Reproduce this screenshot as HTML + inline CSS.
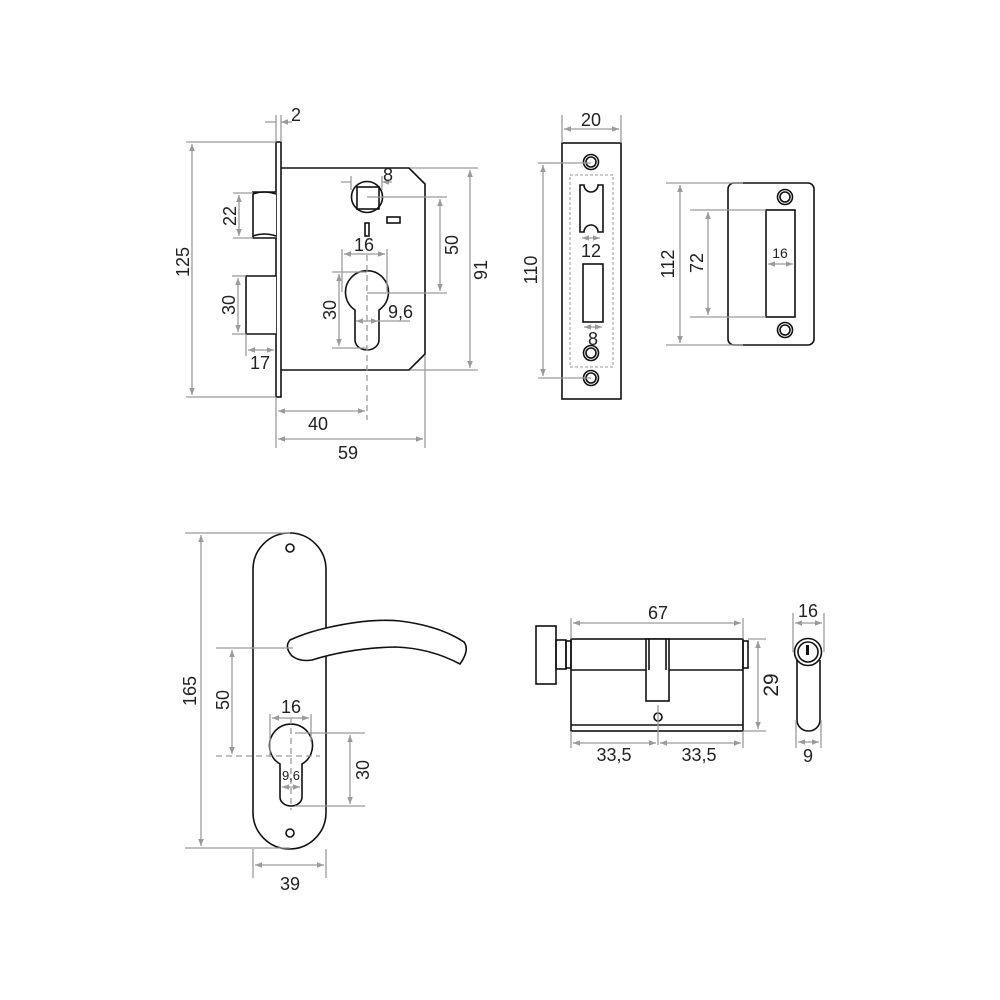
<!DOCTYPE html>
<html><head><meta charset="utf-8"><style>
html,body{margin:0;padding:0;background:#fff;}
svg{display:block}
text{font-family:"Liberation Sans","DejaVu Sans",sans-serif;fill:#222;font-size:18px;}
.d{stroke:#9a9a9a;stroke-width:1.3;fill:none}
.k{stroke:#111;stroke-width:1.6;fill:none}
.kw{stroke:#111;stroke-width:1.6;fill:#fff}
.da{stroke:#9a9a9a;stroke-width:1.3;fill:none;marker-start:url(#a);marker-end:url(#a)}
.ds{stroke:#9a9a9a;stroke-width:1.3;fill:none;stroke-dasharray:6 4}
</style></head><body>
<svg width="1000" height="1000" viewBox="0 0 1000 1000" xmlns="http://www.w3.org/2000/svg">
<defs>
<marker id="a" viewBox="0 0 10 10" refX="10" refY="5" markerWidth="7" markerHeight="7" orient="auto-start-reverse" markerUnits="userSpaceOnUse"><path d="M0,1 L10,5 L0,9 z" fill="#9a9a9a"/></marker>
</defs>

<!-- ===== Mortise lock ===== -->
<rect x="276" y="142" width="5" height="255" fill="#fff" stroke="#111" stroke-width="1.6"/>
<path class="k" d="M281,168 H409 L425,184 V354 L409,370 H281"/>
<path class="kw" d="M276,192 H253 V238 H276"/>
<path class="k" d="M253,194 Q264,190 276,194 M253,236 Q264,232 276,236"/>
<path class="kw" d="M276,276 H246 V334 H276"/>
<circle class="k" cx="367" cy="197" r="15.5"/>
<rect class="k" x="357" y="187" width="22" height="22"/>
<rect class="k" x="365" y="223" width="4" height="13"/>
<rect class="k" x="387" y="217" width="13" height="6"/>
<path class="k" d="M355,310 A21.5,21.5 0 1 1 379,310 V340 A12,10 0 0 1 355,340 Z"/>
<line class="ds" x1="367" y1="255" x2="367" y2="420"/>
<!-- dims -->
<line class="d" x1="186" y1="142" x2="276" y2="142"/>
<line class="d" x1="186" y1="397" x2="276" y2="397"/>
<line class="da" x1="192" y1="144" x2="192" y2="395"/>
<text transform="translate(189,262) rotate(-90)" text-anchor="middle">125</text>
<line class="d" x1="276" y1="115" x2="276" y2="142"/>
<line class="d" x1="281" y1="115" x2="281" y2="142"/>
<path class="d" d="M265,122 H276 M292,122 H281" style="marker-end:url(#a)"/>
<text x="291" y="121">2</text>
<line class="d" x1="233" y1="193" x2="253" y2="193"/>
<line class="d" x1="233" y1="238" x2="253" y2="238"/>
<line class="da" x1="239" y1="195" x2="239" y2="236"/>
<text transform="translate(236,216) rotate(-90)" text-anchor="middle">22</text>
<line class="d" x1="232" y1="276" x2="246" y2="276"/>
<line class="d" x1="232" y1="334" x2="246" y2="334"/>
<line class="da" x1="238" y1="278" x2="238" y2="332"/>
<text transform="translate(235,305) rotate(-90)" text-anchor="middle">30</text>
<line class="d" x1="246" y1="334" x2="246" y2="356"/>
<line class="da" x1="248" y1="350" x2="274" y2="350"/>
<text x="260" y="369" text-anchor="middle">17</text>
<line class="d" x1="276" y1="397" x2="276" y2="448"/>
<line class="d" x1="425" y1="355" x2="425" y2="448"/>
<line class="da" x1="278" y1="411" x2="365" y2="411"/>
<text x="318" y="430" text-anchor="middle">40</text>
<line class="da" x1="278" y1="439" x2="423" y2="439"/>
<text x="348" y="459" text-anchor="middle">59</text>
<line class="d" x1="410" y1="168" x2="478" y2="168"/>
<line class="d" x1="410" y1="370" x2="478" y2="370"/>
<line class="da" x1="470" y1="170" x2="470" y2="368"/>
<text transform="translate(487,270) rotate(-90)" text-anchor="middle">91</text>
<line class="d" x1="367" y1="197" x2="447" y2="197"/>
<line class="d" x1="367" y1="293" x2="447" y2="293"/>
<line class="da" x1="440" y1="199" x2="440" y2="291"/>
<text transform="translate(458,245) rotate(-90)" text-anchor="middle">50</text>
<line class="d" x1="351" y1="176" x2="351" y2="190"/>
<line class="d" x1="382" y1="176" x2="382" y2="190"/>
<path class="d" d="M341,182 H351 M392,182 H382" style="marker-end:url(#a)"/>
<text x="383" y="181">8</text>
<line class="d" x1="342" y1="249" x2="342" y2="292"/>
<line class="d" x1="387" y1="249" x2="387" y2="292"/>
<line class="da" x1="344" y1="254" x2="385" y2="254"/>
<text x="364" y="251" text-anchor="middle">16</text>
<line class="d" x1="332" y1="272" x2="367" y2="272"/>
<line class="d" x1="332" y1="348" x2="367" y2="348"/>
<line class="da" x1="339" y1="274" x2="339" y2="346"/>
<text transform="translate(336,310) rotate(-90)" text-anchor="middle">30</text>
<line class="da" x1="356" y1="321" x2="378" y2="321"/>
<line class="d" x1="378" y1="321" x2="410" y2="321"/>
<text x="388" y="318">9,6</text>

<!-- ===== Strike plate 1 ===== -->
<rect class="k" x="562" y="143" width="59" height="256"/>
<rect x="570" y="175" width="43" height="192" fill="none" stroke="#999" stroke-width="1" stroke-dasharray="3 2"/>
<g class="k">
<circle cx="591" cy="162" r="7.5"/><circle cx="591" cy="162" r="5" />
<circle cx="591" cy="353" r="7.5"/><circle cx="591" cy="353" r="5"/>
<circle cx="591" cy="378" r="7.5"/><circle cx="591" cy="378" r="5"/>
</g>
<path class="k" d="M580,185 H584 A7,7 0 0 0 598,185 H603 V232 H598 A7,7 0 0 0 584,232 H580 Z"/>
<rect class="k" x="583" y="264" width="20" height="58"/>
<line class="d" x1="562" y1="115" x2="562" y2="143"/>
<line class="d" x1="621" y1="115" x2="621" y2="143"/>
<line class="da" x1="564" y1="129" x2="619" y2="129"/>
<text x="591" y="126" text-anchor="middle">20</text>
<line class="d" x1="538" y1="163" x2="591" y2="163"/>
<line class="d" x1="538" y1="378" x2="591" y2="378"/>
<line class="da" x1="543" y1="165" x2="543" y2="376"/>
<text transform="translate(537,270) rotate(-90)" text-anchor="middle">110</text>
<line class="da" x1="582" y1="238" x2="600" y2="238"/>
<text x="591" y="257" text-anchor="middle">12</text>
<line class="da" x1="584" y1="327" x2="602" y2="327"/>
<text x="593" y="345" text-anchor="middle">8</text>

<!-- ===== Strike plate 2 ===== -->
<rect class="k" x="728" y="183" width="86" height="162" rx="6"/>
<rect class="k" x="766" y="210" width="29" height="107"/>
<g class="k">
<circle cx="785" cy="197" r="7.5"/><circle cx="785" cy="197" r="5"/>
<circle cx="785" cy="330" r="7.5"/><circle cx="785" cy="330" r="5"/>
</g>
<line class="d" x1="666" y1="183" x2="743" y2="183"/>
<line class="d" x1="666" y1="345" x2="743" y2="345"/>
<line class="da" x1="680" y1="185" x2="680" y2="343"/>
<text transform="translate(674,264) rotate(-90)" text-anchor="middle">112</text>
<line class="d" x1="690" y1="210" x2="766" y2="210"/>
<line class="d" x1="690" y1="317" x2="766" y2="317"/>
<line class="da" x1="708" y1="212" x2="708" y2="315"/>
<text transform="translate(703,263) rotate(-90)" text-anchor="middle">72</text>
<line class="da" x1="768" y1="264" x2="793" y2="264"/>
<text x="780" y="258" text-anchor="middle" style="font-size:14px">16</text>

<!-- ===== Handle ===== -->
<rect class="k" x="253" y="533" width="73" height="316" rx="36.5"/>
<circle class="k" cx="290" cy="548" r="4"/>
<circle class="k" cx="290" cy="833" r="4"/>
<path class="kw" d="M326,628 Q370,618 400,621 Q440,626 464,642 Q470,650 460,664 Q430,648 395,647 Q350,648 312,660 Q300,662 292,656 Q284,647 290,640 Q305,633 326,628 Z"/>
<path class="k" d="M280,764 A21.5,21.5 0 1 1 302,764 V797 A11,9 0 0 1 280,797 Z"/>
<line class="ds" x1="291" y1="718" x2="291" y2="810"/>
<line class="ds" x1="216" y1="756" x2="320" y2="756"/>
<line class="d" x1="185" y1="533" x2="290" y2="533"/>
<line class="d" x1="185" y1="848" x2="290" y2="848"/>
<line class="da" x1="201" y1="535" x2="201" y2="846"/>
<text transform="translate(196,691) rotate(-90)" text-anchor="middle">165</text>
<line class="d" x1="216" y1="648" x2="293" y2="648"/>
<line class="da" x1="232" y1="650" x2="232" y2="754"/>
<text transform="translate(229,700) rotate(-90)" text-anchor="middle">50</text>
<line class="d" x1="270" y1="714" x2="270" y2="756"/>
<line class="d" x1="311" y1="714" x2="311" y2="742"/>
<line class="da" x1="272" y1="718" x2="309" y2="718"/>
<text x="291" y="713" text-anchor="middle">16</text>
<line class="d" x1="295" y1="733" x2="365" y2="733"/>
<line class="d" x1="295" y1="806" x2="365" y2="806"/>
<line class="da" x1="350" y1="735" x2="350" y2="804"/>
<text transform="translate(369,770) rotate(-90)" text-anchor="middle">30</text>
<line class="da" x1="282" y1="787" x2="300" y2="787"/>
<text x="291" y="780" text-anchor="middle" style="font-size:13px">9,6</text>
<line class="d" x1="253" y1="849" x2="253" y2="878"/>
<line class="d" x1="326" y1="849" x2="326" y2="878"/>
<line class="da" x1="255" y1="865" x2="324" y2="865"/>
<text x="290" y="890" text-anchor="middle">39</text>

<!-- ===== Cylinder ===== -->
<rect class="k" x="536" y="626" width="20" height="58"/>
<rect class="k" x="556" y="640" width="10" height="29"/>
<rect class="k" x="566" y="641" width="5" height="27"/>
<rect class="k" x="571" y="639" width="172" height="92"/>
<line class="k" x1="571" y1="670" x2="743" y2="670"/>
<line class="k" x1="571" y1="725" x2="743" y2="725"/>
<rect class="k" x="743" y="641" width="5" height="27"/>
<rect class="kw" x="646" y="639" width="23" height="62"/>
<line class="k" x1="649" y1="639" x2="649" y2="670"/>
<line class="k" x1="666" y1="639" x2="666" y2="670"/>
<circle class="k" cx="658" cy="717" r="4"/>
<line class="d" x1="658" y1="705" x2="658" y2="745"/>
<line class="d" x1="571" y1="618" x2="571" y2="639"/>
<line class="d" x1="743" y1="618" x2="743" y2="639"/>
<line class="da" x1="573" y1="623" x2="741" y2="623"/>
<text x="658" y="619" text-anchor="middle">67</text>
<line class="d" x1="748" y1="639" x2="766" y2="639"/>
<line class="d" x1="743" y1="731" x2="766" y2="731"/>
<line class="da" x1="758" y1="641" x2="758" y2="729"/>
<text transform="translate(778,685) rotate(-90)" text-anchor="middle" style="font-size:21px">29</text>
<line class="d" x1="571" y1="731" x2="571" y2="748"/>
<line class="d" x1="743" y1="731" x2="743" y2="748"/>
<line class="da" x1="573" y1="743" x2="656" y2="743"/>
<line class="da" x1="660" y1="743" x2="741" y2="743"/>
<text x="614" y="761" text-anchor="middle">33,5</text>
<text x="699" y="761" text-anchor="middle">33,5</text>
<!-- side view -->
<path class="k" d="M797,660 V720 A11.5,11 0 0 0 820,720 V660"/>
<circle class="kw" cx="808" cy="652" r="13.5"/>
<circle class="k" cx="808" cy="652" r="10"/>
<rect x="806" y="645" width="3" height="10" fill="#111"/>
<line class="d" x1="793" y1="613" x2="793" y2="652"/>
<line class="d" x1="824" y1="613" x2="824" y2="652"/>
<line class="da" x1="795" y1="623" x2="822" y2="623"/>
<text x="808" y="617" text-anchor="middle">16</text>
<line class="d" x1="796" y1="720" x2="796" y2="748"/>
<line class="d" x1="821" y1="720" x2="821" y2="748"/>
<line class="da" x1="798" y1="742" x2="819" y2="742"/>
<text x="808" y="762" text-anchor="middle">9</text>
</svg>
</body></html>
